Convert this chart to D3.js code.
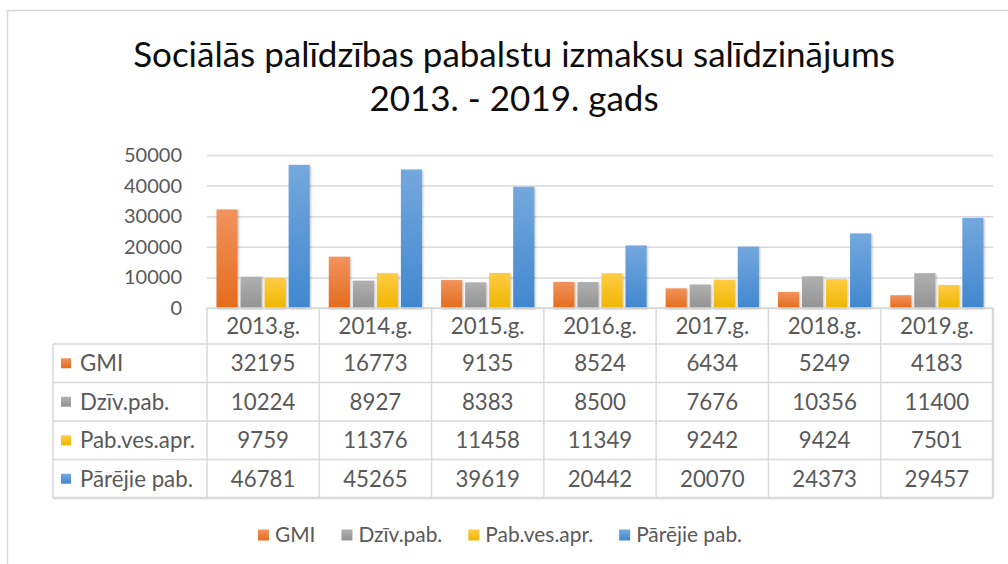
<!DOCTYPE html>
<html>
<head>
<meta charset="utf-8">
<script src="https://cdn.jsdelivr.net/npm/d3@7"></script>
<style>
  html, body { margin: 0; padding: 0; background: #fff; }
  svg { display: block; font-family: Lato, "Noto Sans", sans-serif; }
</style>
</head>
<body>
<svg id="chart" width="1008" height="564"></svg>
<script>
// categories and series
const years = ["2013.g.", "2014.g.", "2015.g.", "2016.g.", "2017.g.", "2018.g.", "2019.g."];
const seriesNames = ["GMI", "Dzīv.pab.", "Pab.ves.apr.", "Pārējie pab."];
const gmi = [32195, 16773, 9135, 8524, 6434, 5249, 4183];
const dzivPab = [10224, 8927, 8383, 8500, 7676, 10356, 11400];
const pabVesApr = [9759, 11376, 11458, 11349, 9242, 9424, 7501];
const parejiePab = [46781, 45265, 39619, 20442, 20070, 24373, 29457];
const yTicks = [0, 10000, 20000, 30000, 40000, 50000];
const titleLines = ["Sociālās palīdzības pabalstu izmaksu salīdzinājums", "2013. - 2019. gads"];

const seriesValues = [gmi, dzivPab, pabVesApr, parejiePab];
const colors = [
  { top: "#f2935e", bottom: "#e46c1c" },
  { top: "#b0b0b0", bottom: "#939393" },
  { top: "#ffcb45", bottom: "#eeb700" },
  { top: "#74a8de", bottom: "#4187cf" },
];

const svg = d3.select("#chart");
const textColor = "#595959";
const gridColor = "#d9d9d9";

const plot = { left: 207, right: 993, top: 155, bottom: 308 };
const table = { labelLeft: 53, headerBottom: 344, rowH: 38.5 };

// pick a font size so a sample string gets the width it has in the original (Calibri isn't installed)
const fitFont = (sample, width) => {
  const t = svg.append("text").attr("font-size", 100).text(sample);
  const w = t.node().getComputedTextLength();
  t.remove();
  return 100 * width / w;
};
const titleSize = fitFont(titleLines[0], 762);
const axisSize = fitFont("50000", 58);
const cellSize = fitFont("Pārējie pab.", 113);
const legendSize = fitFont("Pārējie pab.", 106);

// defs: gradients + shadow
const defs = svg.append("defs");
colors.forEach((c, i) => {
  const g = defs.append("linearGradient")
    .attr("id", "grad" + i)
    .attr("x1", 0).attr("y1", 0).attr("x2", 0).attr("y2", 1);
  g.append("stop").attr("offset", "0%").attr("stop-color", c.top);
  g.append("stop").attr("offset", "100%").attr("stop-color", c.bottom);
});
defs.append("filter").attr("id", "shadow")
  .attr("x", "-30%").attr("y", "-10%").attr("width", "160%").attr("height", "130%")
  .append("feDropShadow")
  .attr("dx", 1).attr("dy", 1).attr("stdDeviation", 1.2)
  .attr("flood-color", "#000").attr("flood-opacity", 0.25);

// outer chart border
svg.append("path")
  .attr("d", "M7.5,564 V10.5 H1008")
  .attr("fill", "none")
  .attr("stroke", gridColor)
  .attr("stroke-width", 1.5);

// title
svg.append("g").selectAll("text")
  .data(titleLines)
  .join("text")
  .attr("x", 514)
  .attr("y", (d, i) => 67 + i * 44)
  .attr("text-anchor", "middle")
  .attr("font-size", titleSize)
  .attr("fill", "#0d0d0d")
  .text(d => d);

// scales
const x0 = d3.scaleBand().domain(years).range([plot.left, plot.right]);
const x1 = d3.scaleBand().domain(d3.range(seriesNames.length))
  .range([9.5, x0.bandwidth() - 9.5]).paddingInner(0.12);
const y = d3.scaleLinear().domain([0, 50000]).range([plot.bottom, plot.top]);

// gridlines
svg.append("g")
  .attr("transform", `translate(${plot.left},0)`)
  .call(d3.axisLeft(y).tickValues(yTicks).tickSize(-(plot.right - plot.left)).tickFormat(""))
  .call(g => g.select(".domain").remove())
  .call(g => g.selectAll(".tick line").attr("stroke", gridColor).attr("stroke-width", 1.5));

// y labels
svg.append("g")
  .attr("transform", `translate(${plot.left},0)`)
  .call(d3.axisLeft(y).tickValues(yTicks).tickSize(0).tickPadding(25).tickFormat(d3.format("d")))
  .call(g => g.select(".domain").remove())
  .call(g => g.selectAll(".tick text")
    .attr("font-family", "Lato, 'Noto Sans', sans-serif")
    .attr("font-size", axisSize).attr("fill", textColor));

// bars
const groups = svg.append("g").selectAll("g")
  .data(years)
  .join("g")
  .attr("transform", d => `translate(${x0(d)},0)`);
groups.selectAll("rect")
  .data((d, yi) => seriesValues.map((vals, si) => ({ si, v: vals[yi] })))
  .join("rect")
  .attr("x", d => x1(d.si))
  .attr("width", x1.bandwidth())
  .attr("y", d => y(d.v))
  .attr("height", d => y(0) - y(d.v))
  .attr("fill", d => `url(#grad${d.si})`)
  .attr("filter", "url(#shadow)");

// data table
const tbl = svg.append("g");
const rowY = i => table.headerBottom + i * table.rowH;
const tableBottom = rowY(seriesNames.length);

// horizontal lines
tbl.append("line")
  .attr("x1", plot.left).attr("x2", plot.right)
  .attr("y1", plot.bottom).attr("y2", plot.bottom)
  .attr("stroke", gridColor).attr("stroke-width", 1.5);
tbl.selectAll("line.h")
  .data(d3.range(seriesNames.length + 1))
  .join("line")
  .attr("class", "h")
  .attr("x1", table.labelLeft).attr("x2", plot.right)
  .attr("y1", d => rowY(d)).attr("y2", d => rowY(d))
  .attr("stroke", gridColor).attr("stroke-width", d => d === seriesNames.length ? 2.5 : 1.5);
// vertical lines
tbl.selectAll("line.v")
  .data(years.concat(["end"]))
  .join("line")
  .attr("class", "v")
  .attr("x1", d => d === "end" ? plot.right : x0(d))
  .attr("x2", d => d === "end" ? plot.right : x0(d))
  .attr("y1", plot.bottom).attr("y2", tableBottom)
  .attr("stroke", gridColor).attr("stroke-width", d => d === "end" ? 2.5 : 1.5);
tbl.append("line")
  .attr("x1", table.labelLeft).attr("x2", table.labelLeft)
  .attr("y1", table.headerBottom).attr("y2", tableBottom)
  .attr("stroke", gridColor).attr("stroke-width", 1.5);

// header text
tbl.selectAll("text.hdr")
  .data(years)
  .join("text")
  .attr("class", "hdr")
  .attr("x", d => x0(d) + x0.bandwidth() / 2)
  .attr("y", (plot.bottom + table.headerBottom) / 2)
  .attr("dy", "0.35em")
  .attr("text-anchor", "middle")
  .attr("font-size", cellSize)
  .attr("fill", textColor)
  .text(d => d);

// row labels with keys
const rows = tbl.selectAll("g.row")
  .data(seriesNames)
  .join("g")
  .attr("class", "row")
  .attr("transform", (d, i) => `translate(0,${rowY(i) + table.rowH / 2})`);
rows.append("rect")
  .attr("x", 61).attr("y", -5)
  .attr("width", 10).attr("height", 10)
  .attr("fill", (d, i) => `url(#grad${i})`);
rows.append("text")
  .attr("x", 80)
  .attr("dy", "0.35em")
  .attr("font-size", cellSize)
  .attr("fill", textColor)
  .text(d => d);
rows.selectAll("text.val")
  .data((d, i) => seriesValues[i].map((v, yi) => ({ v, yr: years[yi] })))
  .join("text")
  .attr("class", "val")
  .attr("x", d => x0(d.yr) + x0.bandwidth() / 2)
  .attr("dy", "0.35em")
  .attr("text-anchor", "middle")
  .attr("font-size", cellSize)
  .attr("fill", textColor)
  .text(d => d.v);

// legend
const legend = svg.append("g");
const items = legend.selectAll("g")
  .data(seriesNames)
  .join("g");
items.append("rect")
  .attr("y", -5.5).attr("width", 11).attr("height", 11)
  .attr("fill", (d, i) => `url(#grad${i})`);
items.append("text")
  .attr("x", 17)
  .attr("dy", "0.35em")
  .attr("font-size", legendSize)
  .attr("fill", textColor)
  .text(d => d);
let offset = 0;
const positions = [];
items.each(function () {
  positions.push(offset);
  offset += 17 + this.querySelector("text").getComputedTextLength() + 26;
});
const legendW = offset - 26;
items.attr("transform", (d, i) => `translate(${500 - legendW / 2 + positions[i]},535)`);
</script>
</body>
</html>
